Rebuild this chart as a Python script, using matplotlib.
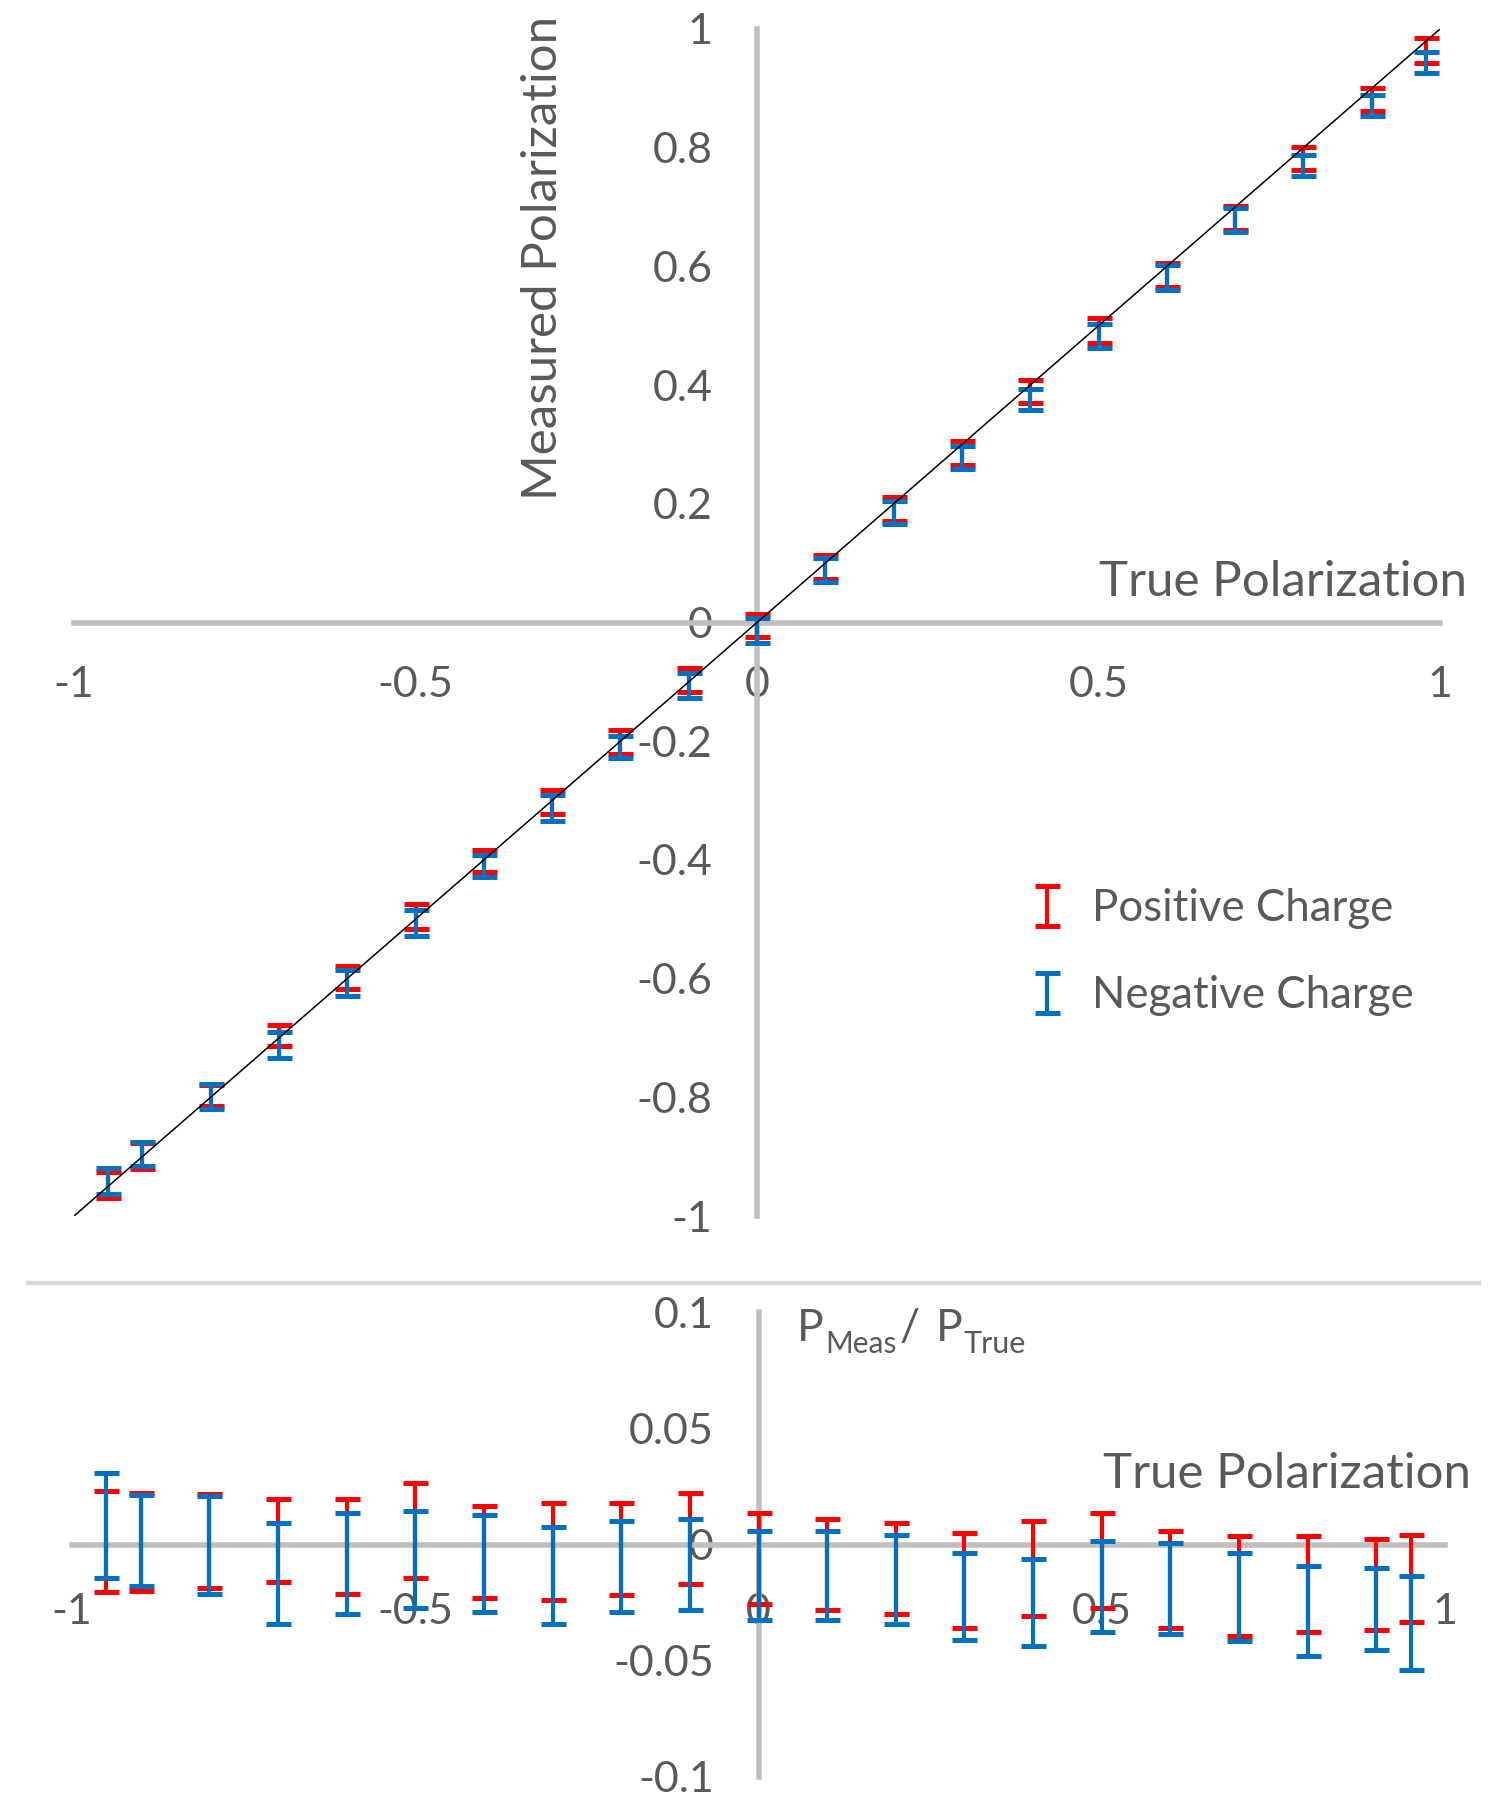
import matplotlib
matplotlib.use('Agg')
import matplotlib.pyplot as plt
from matplotlib.lines import Line2D
from matplotlib.container import ErrorbarContainer
from matplotlib.legend_handler import HandlerErrorbar

plt.rcParams['font.family'] = ['Lato', 'DejaVu Sans']
plt.rcParams['axes.unicode_minus'] = False

# --- top panel: measured vs true polarization ---
x_top = [-0.95, -0.9, -0.8, -0.7, -0.6, -0.5, -0.4, -0.3, -0.2, -0.1, 0.0,
         0.1, 0.2, 0.3, 0.4, 0.5, 0.6, 0.7, 0.8, 0.9, 0.98]
pos_meas = [-0.948, -0.899, -0.797, -0.696, -0.598, -0.495, -0.402, -0.303, -0.201, -0.097, -0.005,
            0.093, 0.191, 0.285, 0.389, 0.492, 0.586, 0.682, 0.782, 0.881, 0.964]
pos_meas_err = [0.022, 0.022, 0.018, 0.017, 0.020, 0.021, 0.019, 0.020, 0.020, 0.020, 0.019,
                0.020, 0.020, 0.020, 0.019, 0.021, 0.020, 0.020, 0.020, 0.019, 0.021]
neg_meas = [-0.941, -0.896, -0.799, -0.712, -0.607, -0.507, -0.410, -0.313, -0.210, -0.106, -0.013,
            0.088, 0.185, 0.278, 0.376, 0.483, 0.582, 0.678, 0.770, 0.871, 0.944]
neg_meas_err = [0.022, 0.020, 0.021, 0.022, 0.022, 0.022, 0.019, 0.022, 0.019, 0.021, 0.021,
                0.020, 0.019, 0.019, 0.018, 0.020, 0.021, 0.020, 0.018, 0.018, 0.018]
ideal_x = [-1, 1]
ideal_y = [-1, 1]

# --- bottom panel: P_Meas / P_True ---
x_bot = [-0.95, -0.9, -0.8, -0.7, -0.6, -0.5, -0.4, -0.3, -0.2, -0.1, 0.0,
         0.1, 0.2, 0.3, 0.4, 0.5, 0.6, 0.7, 0.8, 0.9, 0.95]
pos_ratio = [0.0014, 0.0012, 0.0015, 0.0017, -0.0009, 0.0059, -0.0033, -0.0031, -0.0019, 0.0025, -0.0060,
             -0.0086, -0.0103, -0.0156, -0.0103, -0.0069, -0.0150, -0.0178, -0.0171, -0.0172, -0.0147]
pos_ratio_err = [0.0217, 0.0211, 0.0204, 0.0179, 0.0204, 0.0205, 0.0199, 0.0209, 0.0197, 0.0195, 0.0196,
                 0.0195, 0.0195, 0.0204, 0.0205, 0.0205, 0.0210, 0.0214, 0.0207, 0.0196, 0.0188]
neg_ratio = [0.0080, 0.0017, -0.0003, -0.0125, -0.0082, -0.0065, -0.0081, -0.0133, -0.0094, -0.0085, -0.0132,
             -0.0132, -0.0151, -0.0223, -0.0248, -0.0180, -0.0189, -0.0226, -0.0286, -0.0277, -0.0337]
neg_ratio_err = [0.0226, 0.0196, 0.0210, 0.0217, 0.0218, 0.0210, 0.0209, 0.0210, 0.0196, 0.0196, 0.0192,
                 0.0192, 0.0192, 0.0186, 0.0187, 0.0197, 0.0196, 0.0190, 0.0192, 0.0176, 0.0201]

x_ticks = [-1, -0.5, 0, 0.5, 1]
x_ticklabels = ['-1', '-0.5', '0', '0.5', '1']
y_ticks_top = [-1, -0.8, -0.6, -0.4, -0.2, 0, 0.2, 0.4, 0.6, 0.8, 1]
y_ticklabels_top = ['-1', '-0.8', '-0.6', '-0.4', '-0.2', '0', '0.2', '0.4', '0.6', '0.8', '1']
y_ticks_bot = [-0.1, -0.05, 0, 0.05, 0.1]
y_ticklabels_bot = ['-0.1', '-0.05', '0', '0.05', '0.1']

RED = '#FF0000'
BLUE = '#0070C0'
AXIS = '#BFBFBF'
TEXT = '#595959'

W, H = 1508, 1798
fig = plt.figure(figsize=(W / 100, H / 100), dpi=100)


def box(x0, y0, x1, y1):
    return [x0 / W, 1 - y1 / H, (x1 - x0) / W, (y1 - y0) / H]


def fx(px):
    return px / W


def fy(py):
    return 1 - py / H


def style(a, xpad):
    for s in ['top', 'right']:
        a.spines[s].set_visible(False)
    for s in ['left', 'bottom']:
        a.spines[s].set_position(('data', 0))
        a.spines[s].set_color(AXIS)
        a.spines[s].set_linewidth(4)
    a.tick_params(length=0, labelsize=31, labelcolor=TEXT)
    a.tick_params(axis='x', pad=xpad)
    a.tick_params(axis='y', pad=32)
    a.patch.set_visible(False)


bar_kw = dict(fmt='none', elinewidth=3, capsize=9, capthick=3.6, zorder=3)

ax = fig.add_axes(box(74, 29, 1440, 1216))
style(ax, 31)
pos = ax.errorbar(x_top, pos_meas, yerr=pos_meas_err, ecolor=RED, label='Positive Charge', **bar_kw)
neg = ax.errorbar(x_top, neg_meas, yerr=neg_meas_err, ecolor=BLUE, label='Negative Charge', **bar_kw)
ax.plot(ideal_x, ideal_y, color='black', lw=1.1, zorder=4)
ax.set_xlim(-1, 1)
ax.set_ylim(-1, 1)
ax.set_xticks(x_ticks, x_ticklabels)
ax.set_yticks(y_ticks_top, y_ticklabels_top)

leg = ax.legend(handles=[pos, neg], loc='center left',
                bbox_to_anchor=(fx(1033), fy(952)), bbox_transform=fig.transFigure,
                frameon=False, fontsize=31.5, labelcolor=TEXT,
                handler_map={ErrorbarContainer: HandlerErrorbar(xerr_size=0.3, yerr_size=0.46)},
                handlelength=0.65, handletextpad=0.7, labelspacing=1.05,
                borderpad=0, borderaxespad=0)

ax2 = fig.add_axes(box(72, 1312, 1445, 1777))
style(ax2, 35)
ax2.errorbar(x_bot, pos_ratio, yerr=pos_ratio_err, ecolor=RED, **bar_kw)
ax2.errorbar(x_bot, neg_ratio, yerr=neg_ratio_err, ecolor=BLUE, **bar_kw)
ax2.set_xlim(-1, 1)
ax2.set_ylim(-0.1, 0.1)
ax2.set_xticks(x_ticks, x_ticklabels)
ax2.set_yticks(y_ticks_bot, y_ticklabels_bot)

# axis titles
fig.text(fx(543), fy(258), 'Measured Polarization', rotation=90,
         ha='center', va='center', fontsize=35.5, color=TEXT)
fig.text(fx(1467), fy(596), 'True Polarization', ha='right', va='baseline',
         fontsize=35.5, color=TEXT)
fig.text(fx(1471), fy(1488), 'True Polarization', ha='right', va='baseline',
         fontsize=35.5, color=TEXT)

# P_Meas / P_True, built from pieces so the subscripts sit like the original
fig.text(fx(797), fy(1341), 'P', ha='left', va='baseline', fontsize=32, color=TEXT)
fig.text(fx(825), fy(1353), 'Meas', ha='left', va='baseline', fontsize=21.5, color=TEXT)
fig.text(fx(900), fy(1341), '/', ha='left', va='baseline', fontsize=32, color=TEXT)
fig.text(fx(936), fy(1341), 'P', ha='left', va='baseline', fontsize=32, color=TEXT)
fig.text(fx(964), fy(1353), 'True', ha='left', va='baseline', fontsize=22, color=TEXT)

# separator between the two panels
fig.add_artist(Line2D([fx(28), fx(1479)], [fy(1283), fy(1283)],
                      transform=fig.transFigure, color='#D9D9D9', lw=3.2))

fig.savefig('out.png', dpi=100)
